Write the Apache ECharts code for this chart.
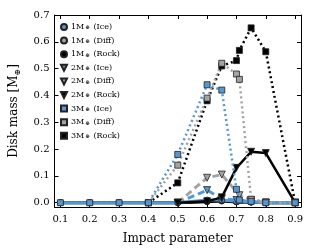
<!DOCTYPE html>
<html><head><meta charset="utf-8">
<script src="https://cdn.jsdelivr.net/npm/echarts@6/dist/echarts.min.js"></script>
<style>html,body{margin:0;padding:0;background:#fff}#c{width:312px;height:251px}</style>
</head><body><div id="c"></div>
<script>
// ---- data ----
var xTicks = [0.1,0.2,0.3,0.4,0.5,0.6,0.7,0.8,0.9];
var yTicks = [0.0,0.1,0.2,0.3,0.4,0.5,0.6,0.7];

var x1 = [0.1,0.2,0.3,0.4,0.5,0.6,0.65,0.7,0.75,0.8,0.9];
var y1Ice  = [0,0,0,0,0,0.01,0.01,0.005,0.003,0,0];
var y1Diff = [0,0,0,0,0,0.005,0.008,0.004,0.002,0,0];
var y1Rock = [0,0,0,0,0,0.004,0.006,0.003,0.002,0,0];

var x2Ice  = [0.5,0.6,0.65,0.7,0.75,0.8,0.9];
var y2Ice  = [0,0.047,0.015,0.01,0.005,0,0];
var x2Diff = [0.5,0.6,0.65,0.71,0.75,0.8,0.9];
var y2Diff = [0,0.093,0.105,0.028,0.01,0,0];
var x2Rock = [0.5,0.6,0.65,0.7,0.75,0.8,0.9];
var y2Rock = [0,0.005,0.02,0.13,0.19,0.185,0];

var x3Ice  = [0.1,0.2,0.3,0.4,0.5,0.6,0.65,0.7,0.71,0.75,0.8,0.9];
var y3Ice  = [0,0,0,0,0.18,0.44,0.42,0.05,0.01,0.005,0,0];
var x3Diff = [0.4,0.5,0.6,0.65,0.7,0.71,0.75,0.8,0.9];
var y3Diff = [0,0.14,0.39,0.52,0.48,0.46,0.013,0.003,0];
var x3Rock = [0.4,0.5,0.6,0.65,0.7,0.71,0.75,0.8,0.9];
var y3Rock = [0,0.074,0.38,0.51,0.53,0.568,0.652,0.563,0];

var names = ['1M (Ice)','1M (Diff)','1M (Rock)','2M (Ice)','2M (Diff)','2M (Rock)','3M (Ice)','3M (Diff)','3M (Rock)'];

// ---- styles ----
var BLUE = '#5597d3', GRAY = '#a3a3a3', BLACK = '#000000';
var TRI = 'path://M0,0 L10,0 L5,10 Z';
var FONT = 'DejaVu Serif';

function pairs(xs, ys){ return xs.map(function(x,i){ return [x, ys[i]]; }); }
function mk(name, xs, ys, color, lineType, width, symbol, size, z){
  return {
    name: name, type: 'line', data: pairs(xs, ys), z: z,
    symbol: symbol, symbolSize: size,
    lineStyle: {color: color, width: width, type: lineType, cap: 'butt'},
    itemStyle: {color: color, borderColor: '#222', borderWidth: 0.8},
    emphasis: {disabled: true}, animation: false, silent: true
  };
}
var DOT = [2,3], DASH = [7,4];
var series = [
  mk(names[1], x1, y1Diff, GRAY, 'solid', 3, 'circle', 6, 2),
  mk(names[2], x1, y1Rock, BLACK, 'solid', 3, 'circle', 6, 2),
  mk(names[0], x1, y1Ice, BLUE, 'solid', 3, 'circle', 6, 3),
  mk(names[3], x2Ice, y2Ice, BLUE, DASH, 3, TRI, 7, 4),
  mk(names[4], x2Diff, y2Diff, GRAY, DASH, 3, TRI, 7, 4),
  mk(names[5], x2Rock, y2Rock, BLACK, 'solid', 2.5, TRI, 7, 4),
  mk(names[8], x3Rock, y3Rock, BLACK, DOT, 2.5, 'rect', 6, 5),
  mk(names[7], x3Diff, y3Diff, GRAY, DOT, 2.5, 'rect', 6, 5),
  mk(names[6], x3Ice, y3Ice, BLUE, DOT, 2.5, 'rect', 6, 6)
];

var icons = ['circle','circle','circle',TRI,TRI,TRI,'rect','rect','rect'];

var chart = echarts.init(document.getElementById('c'), null, {renderer: 'canvas'});
var axisCommon = {
  type: 'value',
  axisLine: {show: true, onZero: false, lineStyle: {color: '#000', width: 1}},
  splitLine: {show: false}
};
chart.setOption({
  animation: false,
  backgroundColor: '#fff',
  textStyle: {fontFamily: FONT},
  grid: {left: 51, right: 11, top: 15, bottom: 44},
  legend: {
    orient: 'vertical', left: 55, top: 18,
    itemWidth: 6, itemHeight: 6, itemGap: 5.6,
    selectedMode: false,
    data: names.map(function(n,i){ return {name: n, icon: icons[i]}; }),
    formatter: function(n){ return n.replace('M', 'M{s|⊕}'); },
    textStyle: {fontFamily: FONT, fontSize: 8, color: '#000', padding: [0,0,0,-1],
      rich: {s: {fontFamily: FONT, fontSize: 5.5, verticalAlign: 'bottom', padding: [2,1,0,1]}}}
  },
  xAxis: [
    Object.assign({}, axisCommon, {
      min: 0.08, max: 0.92, position: 'bottom',
      name: 'Impact parameter', nameLocation: 'middle', nameGap: 26,
      nameTextStyle: {fontFamily: FONT, fontSize: 12, color: '#000'},
      axisTick: {show: true, inside: true, length: 4, customValues: xTicks, lineStyle: {color: '#000'}},
      axisLabel: {show: true, customValues: xTicks, margin: 7, fontFamily: FONT, fontSize: 10, color: '#000',
        formatter: function(v){ return v.toFixed(1); }}
    }),
    Object.assign({}, axisCommon, {
      min: 0.08, max: 0.92, position: 'top',
      axisTick: {show: true, inside: true, length: 4, customValues: xTicks, lineStyle: {color: '#000'}},
      axisLabel: {show: false}
    })
  ],
  yAxis: [
    Object.assign({}, axisCommon, {
      min: -0.016, max: 0.7, position: 'left',
      name: 'Disk mass [M{s|⊕}]', nameLocation: 'middle', nameGap: 33, nameRotate: 90,
      nameTextStyle: {fontFamily: FONT, fontSize: 12, color: '#000',
        rich: {s: {fontFamily: FONT, fontSize: 8, padding: [7,0,0,0], verticalAlign: 'bottom'}}},
      axisTick: {show: true, inside: true, length: 4, customValues: yTicks, lineStyle: {color: '#000'}},
      axisLabel: {show: true, customValues: yTicks, margin: 5, fontFamily: FONT, fontSize: 10, color: '#000',
        formatter: function(v){ return v.toFixed(1); }}
    }),
    Object.assign({}, axisCommon, {
      min: -0.016, max: 0.7, position: 'right',
      axisTick: {show: true, inside: true, length: 4, customValues: yTicks, lineStyle: {color: '#000'}},
      axisLabel: {show: false}
    })
  ],
  series: series
});
</script></body></html>
